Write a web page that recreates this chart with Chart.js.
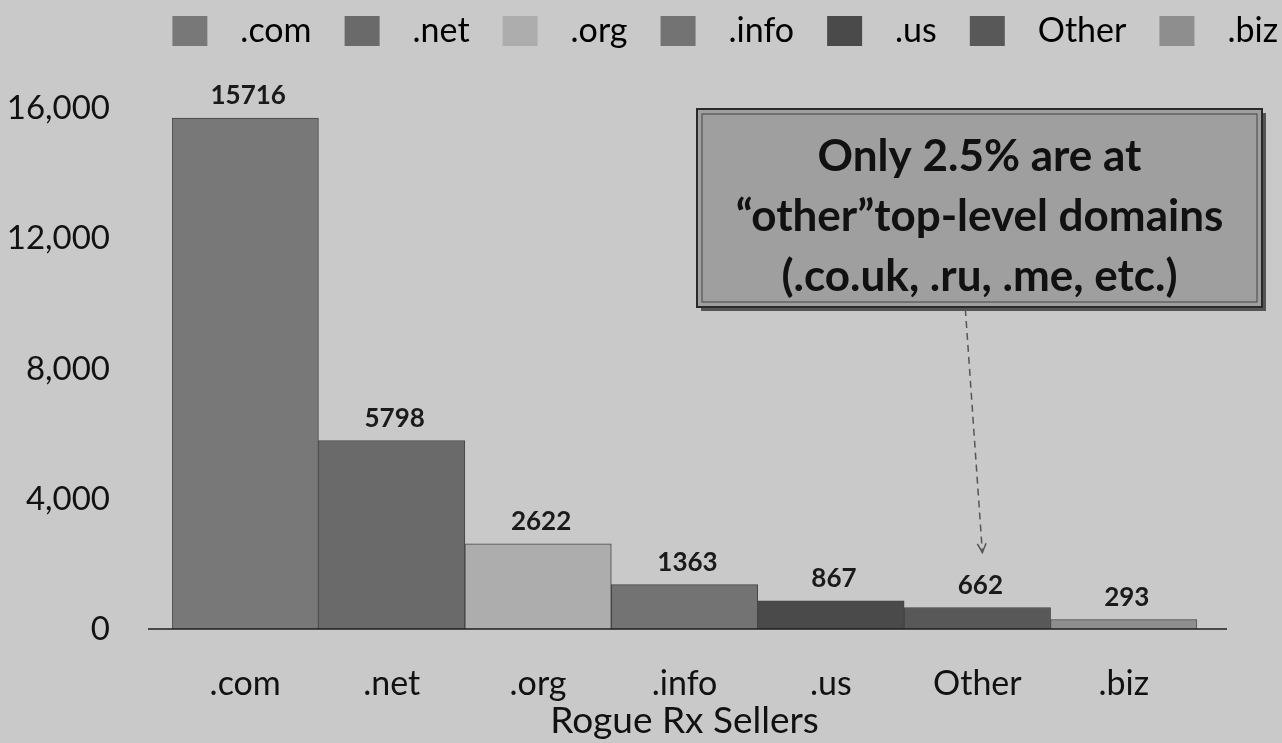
<!DOCTYPE html>
<html>
<head>
<meta charset="utf-8">
<script src="https://cdn.jsdelivr.net/npm/chart.js@4.4.1/dist/chart.umd.min.js"></script>
<style>
  html, body { margin: 0; padding: 0; background: #c9c9c9; }
  #wrap { width: 1282px; height: 743px; }
</style>
</head>
<body>
<div id="wrap"><canvas id="tldChart"></canvas></div>
<script>
// Dados
const categories = [".com", ".net", ".org", ".info", ".us", "Other", ".biz"];
const sellers = [15716, 5798, 2622, 1363, 867, 662, 293];
const barColors = ["#787878", "#6a6a6a", "#adadad", "#737373", "#4a4a4a", "#585858", "#8e8e8e"];
const yTicks = [0, 4000, 8000, 12000, 16000];
const axisTitle = "Rogue Rx Sellers";
const calloutLines = ["Only 2.5% are at", "\u201cother\u201dtop-level domains", "(.co.uk, .ru, .me, etc.)"];
const calloutTarget = "Other";

const FONT = "Lato, 'Open Sans', sans-serif";

// Amostra de cor da legenda: quadrado com margem transparente
function makeSwatch(color) {
  const c = document.createElement("canvas");
  c.width = 80;
  c.height = 30;
  const ctx = c.getContext("2d");
  ctx.fillStyle = color;
  ctx.fillRect(29, 0, 35, 30);
  return c;
}

// Linha de base do eixo X, mais longa que a área do gráfico
const baselinePlugin = {
  id: "baseline",
  afterDatasetsDraw(chart) {
    const { ctx, chartArea, scales } = chart;
    const y = scales.y.getPixelForValue(0);
    ctx.save();
    ctx.strokeStyle = "#1e1e1e";
    ctx.lineWidth = 1.5;
    ctx.beginPath();
    ctx.moveTo(chartArea.left - 24, y);
    ctx.lineTo(chartArea.right + 30, y);
    ctx.stroke();
    ctx.restore();
  },
};

// Valores acima das barras
const valueLabels = {
  id: "valueLabels",
  afterDatasetsDraw(chart) {
    const { ctx } = chart;
    const meta = chart.getDatasetMeta(0);
    ctx.save();
    ctx.font = "bold 26px " + FONT;
    ctx.fillStyle = "#1a1a1a";
    ctx.textAlign = "center";
    ctx.textBaseline = "middle";
    meta.data.forEach((bar, i) => {
      ctx.fillText(String(sellers[i]), bar.x + 3, bar.y - 22);
    });
    ctx.restore();
  },
};

// Caixa de destaque com seta apontando para "Other"
const callout = {
  id: "callout",
  afterDraw(chart) {
    const { ctx, scales } = chart;
    const box = { x: 697, y: 109, w: 565, h: 198 };
    ctx.save();

    // sombra
    ctx.fillStyle = "#555555";
    ctx.fillRect(box.x + 4, box.y + 4, box.w, box.h);
    // caixa
    ctx.fillStyle = "#9f9f9f";
    ctx.fillRect(box.x, box.y, box.w, box.h);
    ctx.strokeStyle = "#2a2a2a";
    ctx.lineWidth = 2;
    ctx.strokeRect(box.x, box.y, box.w, box.h);
    ctx.lineWidth = 1;
    ctx.strokeStyle = "#444444";
    ctx.strokeRect(box.x + 5, box.y + 5, box.w - 10, box.h - 10);

    // texto
    ctx.font = "bold 44px " + FONT;
    ctx.fillStyle = "#111111";
    ctx.textAlign = "center";
    ctx.textBaseline = "middle";
    const cx = box.x + box.w / 2;
    calloutLines.forEach((line, i) => {
      ctx.fillText(line, cx, box.y + 48 + i * 60);
    });

    // seta tracejada
    const idx = categories.indexOf(calloutTarget);
    const endX = scales.x.getPixelForValue(idx) + 5;
    const endY = scales.y.getPixelForValue(sellers[idx]) - 55;
    const startX = endX - 17;
    const startY = box.y + box.h + 2;
    ctx.strokeStyle = "#555555";
    ctx.lineWidth = 1.5;
    ctx.setLineDash([7, 5]);
    ctx.beginPath();
    ctx.moveTo(startX, startY);
    ctx.lineTo(endX, endY);
    ctx.stroke();
    ctx.setLineDash([]);
    const ang = Math.atan2(endY - startY, endX - startX);
    ctx.beginPath();
    ctx.moveTo(endX - 10 * Math.cos(ang - 0.45), endY - 10 * Math.sin(ang - 0.45));
    ctx.lineTo(endX, endY);
    ctx.lineTo(endX - 10 * Math.cos(ang + 0.45), endY - 10 * Math.sin(ang + 0.45));
    ctx.stroke();
    ctx.restore();
  },
};

const tldChart = new Chart(document.getElementById("tldChart"), {
  type: "bar",
  data: {
    labels: categories,
    datasets: [
      {
        label: axisTitle,
        data: sellers,
        backgroundColor: barColors,
        borderColor: "#444444",
        borderWidth: 1,
        barPercentage: 1,
        categoryPercentage: 1,
      },
    ],
  },
  options: {
    responsive: true,
    maintainAspectRatio: false,
    animation: false,
    layout: { padding: { left: 0, top: 10, right: 0, bottom: 0 } },
    plugins: {
      legend: {
        position: "top",
        align: "end",
        onClick: null,
        labels: {
          usePointStyle: true,
          pointStyleWidth: 80,
          boxHeight: 30,
          padding: 4,
          color: "#111111",
          font: { family: FONT, size: 34 },
          generateLabels: () =>
            categories.map((c, i) => ({
              text: c,
              fillStyle: barColors[i],
              strokeStyle: barColors[i],
              lineWidth: 0,
              pointStyle: makeSwatch(barColors[i]),
              hidden: false,
              datasetIndex: 0,
              index: i,
            })),
        },
      },
      tooltip: { enabled: false },
    },
    scales: {
      x: {
        grid: { display: false, drawTicks: false },
        border: { display: false },
        afterFit: (scale) => {
          scale.height = 114;
        },
        ticks: {
          color: "#111111",
          padding: 35,
          font: { family: FONT, size: 34 },
        },
        title: {
          display: true,
          text: axisTitle,
          color: "#111111",
          padding: 0,
          font: { family: FONT, size: 37 },
        },
      },
      y: {
        min: 0,
        max: 17560,
        grid: { display: false, drawTicks: false },
        border: { display: false },
        afterBuildTicks: (scale) => {
          scale.ticks = yTicks.map((v) => ({ value: v }));
        },
        afterFit: (scale) => {
          scale.width = 172;
          scale.paddingTop = 0;
          scale.paddingBottom = 0;
        },
        ticks: {
          color: "#111111",
          padding: 62,
          font: { family: FONT, size: 33 },
          callback: (v) => Number(v).toLocaleString("en-US"),
        },
      },
      yRight: {
        position: "right",
        grid: { display: false, drawTicks: false },
        border: { display: false },
        ticks: { display: false },
        afterFit: (scale) => {
          scale.width = 85;
          scale.paddingTop = 0;
          scale.paddingBottom = 0;
        },
      },
    },
  },
  plugins: [baselinePlugin, valueLabels, callout],
});
</script>
</body>
</html>
